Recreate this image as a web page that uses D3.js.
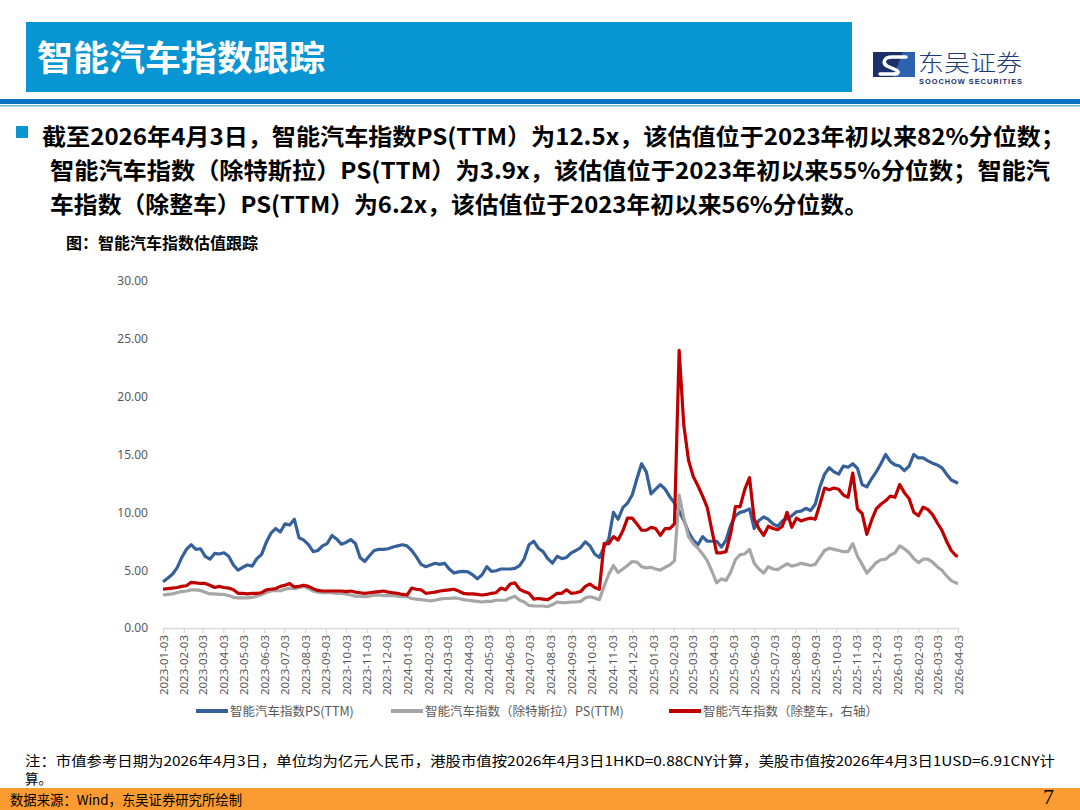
<!DOCTYPE html>
<html><head><meta charset="utf-8">
<script src="https://cdn.jsdelivr.net/npm/d3@7/dist/d3.min.js"></script>
<style>body{margin:0;background:#fff;} svg{display:block;}</style>
</head><body>
<svg id="c" width="1080" height="810"></svg>
<script>
// ---------- data ----------
const startDate = "2023-01-03";
const endDate = "2026-04-03";
const tickLabels = [
"2023-01-03","2023-02-03","2023-03-03","2023-04-03","2023-05-03","2023-06-03","2023-07-03","2023-08-03",
"2023-09-03","2023-10-03","2023-11-03","2023-12-03","2024-01-03","2024-02-03","2024-03-03","2024-04-03",
"2024-05-03","2024-06-03","2024-07-03","2024-08-03","2024-09-03","2024-10-03","2024-11-03","2024-12-03",
"2025-01-03","2025-02-03","2025-03-03","2025-04-03","2025-05-03","2025-06-03","2025-07-03","2025-08-03",
"2025-09-03","2025-10-03","2025-11-03","2025-12-03","2026-01-03","2026-02-03","2026-03-03","2026-04-03"];
const yTicks = [0,5,10,15,20,25,30];
const seriesNames = ["智能汽车指数PS(TTM)","智能汽车指数（除特斯拉）PS(TTM)","智能汽车指数（除整车，右轴）"];
// weekly readings from 2023-01-03, last value at 2026-04-03
const psAll = [
4.0,4.3,4.65,5.2,6.1,6.8,7.2,6.8,6.85,6.2,
5.95,6.45,6.4,6.5,6.2,5.45,5.0,5.25,5.45,5.35,
6.0,6.35,7.4,8.2,8.6,8.3,9.0,8.9,9.4,7.8,
7.6,7.2,6.6,6.7,7.1,7.3,8.0,7.7,7.25,7.4,
7.65,7.3,6.1,5.75,6.25,6.7,6.8,6.8,6.85,7.0,
7.1,7.2,7.1,6.7,6.15,5.5,5.3,5.45,5.6,5.5,
5.6,5.1,4.75,4.85,4.9,4.85,4.6,4.25,4.6,5.3,
4.9,4.95,5.1,5.1,5.1,5.15,5.4,6.0,7.2,7.5,
6.9,6.6,6.0,5.6,6.2,6.0,6.1,6.5,6.7,6.95,
7.45,7.1,6.4,6.1,7.0,7.7,10.0,9.4,10.4,10.8,
11.5,12.9,14.2,13.5,11.6,12.0,12.4,12.0,11.35,10.8,
10.1,9.3,8.3,7.6,7.2,7.9,7.5,7.5,7.5,7.0,
7.6,8.9,9.7,10.0,10.1,10.3,8.6,9.3,9.6,9.4,
9.0,8.8,9.25,9.45,9.7,10.05,10.1,10.35,10.15,10.7,
12.2,13.3,13.85,13.5,13.3,14.0,13.9,14.2,13.8,12.4,
12.2,12.9,13.5,14.2,15.0,14.4,14.1,14.0,13.6,14.0,
15.0,14.7,14.7,14.45,14.25,14.1,13.85,13.3,12.8,12.6,
12.5];
const psExTesla = [
2.85,2.9,2.95,3.05,3.15,3.2,3.3,3.3,3.25,3.1,
2.95,2.95,2.9,2.9,2.8,2.65,2.6,2.6,2.6,2.65,
2.75,2.9,3.05,3.2,3.25,3.2,3.35,3.45,3.4,3.5,
3.6,3.4,3.2,3.1,3.05,3.05,3.05,3.0,3.0,2.95,
2.85,2.75,2.75,2.7,2.75,2.85,2.85,2.8,2.8,2.8,
2.75,2.7,2.7,2.55,2.5,2.45,2.4,2.35,2.4,2.5,
2.55,2.55,2.6,2.55,2.45,2.4,2.35,2.3,2.25,2.3,
2.3,2.4,2.4,2.4,2.6,2.75,2.4,2.25,1.95,1.9,
1.9,1.9,1.85,2.0,2.25,2.2,2.2,2.25,2.25,2.3,
2.6,2.7,2.6,2.45,3.6,4.65,5.4,4.8,5.1,5.4,
5.75,5.7,5.3,5.2,5.25,5.1,5.0,5.25,5.45,5.8,
11.5,9.5,7.9,7.3,6.9,6.4,5.8,4.9,3.9,4.25,
4.1,4.85,5.9,6.35,6.4,6.8,5.6,5.1,4.75,5.3,
5.1,5.05,5.3,5.55,5.35,5.45,5.6,5.5,5.4,5.5,
6.1,6.7,6.9,6.8,6.7,6.6,6.6,7.3,6.2,5.5,
4.75,5.2,5.65,5.9,5.95,6.3,6.5,7.1,6.85,6.5,
6.0,5.65,5.95,5.95,5.7,5.3,5.0,4.5,4.1,3.9,
3.85];
const psExVehicle = [
3.35,3.4,3.45,3.5,3.6,3.65,3.95,3.9,3.85,3.85,
3.7,3.5,3.6,3.5,3.45,3.3,3.0,3.0,2.95,3.0,
3.0,3.05,3.3,3.35,3.4,3.6,3.7,3.85,3.55,3.6,
3.7,3.6,3.4,3.25,3.2,3.2,3.2,3.2,3.2,3.15,
3.2,3.1,3.05,3.0,3.05,3.1,3.15,3.2,3.1,3.05,
3.0,2.9,2.85,3.45,3.35,3.3,3.0,3.05,3.1,3.2,
3.25,3.3,3.35,3.2,3.0,2.95,2.95,2.9,2.85,2.9,
3.0,3.05,3.45,3.3,3.8,3.9,3.35,3.15,3.0,2.5,
2.55,2.5,2.45,2.7,3.0,3.0,3.3,3.0,3.05,3.15,
3.6,3.8,3.5,3.35,7.3,7.3,7.9,7.6,8.4,9.5,
9.5,9.0,8.45,8.45,8.7,8.6,8.0,8.6,8.6,9.0,
24.0,17.5,14.5,13.1,12.3,11.4,10.4,8.4,6.5,6.5,
6.6,8.2,10.5,10.5,12.0,13.0,9.4,8.6,8.0,8.8,
8.6,8.5,8.8,10.0,8.7,9.5,9.25,9.4,9.5,9.4,
10.7,12.1,11.95,12.1,12.0,11.5,11.3,13.4,10.3,9.9,
8.1,9.3,10.3,10.7,11.0,11.4,11.3,12.4,11.7,11.2,
10.0,9.7,10.45,10.25,9.8,9.1,8.45,7.5,6.7,6.25,
6.2];

// ---------- build ----------
const parse = d3.utcParse("%Y-%m-%d");
const d0 = parse(startDate), d1 = parse(endDate);
const dates = d3.range(psAll.length - 1).map(i => d3.utcDay.offset(d0, i * 7)).concat([d1]);

const svg = d3.select("#c");
const CJK = "'Noto Sans CJK SC','Noto Sans',sans-serif";

// header
svg.append("rect").attr("x",26).attr("y",22).attr("width",826).attr("height",70).attr("fill","#0795D4");
svg.append("text").attr("x",37).attr("y",71).attr("fill","#fff").attr("font-family",CJK)
  .attr("font-weight","bold").attr("font-size",35).attr("textLength",288).attr("lengthAdjust","spacingAndGlyphs")
  .text("智能汽车指数跟踪");
svg.append("rect").attr("x",0).attr("y",99).attr("width",1080).attr("height",5).attr("fill","#0A6FBE");
svg.append("rect").attr("x",0).attr("y",105).attr("width",1080).attr("height",1.5).attr("fill","#6FB1E0");

// logo
const lg = svg.append("g");
lg.append("rect").attr("x",873).attr("y",52).attr("width",42).attr("height",25).attr("fill","#1B2F6B");
lg.append("path").attr("d","M903,52 L915,52 L915,77 L893,77 Z").attr("fill","#2D63AE");
lg.append("path").attr("d","M906,57 L892,57 C884,57 882,63 887,66 L896,70 C900,72 898,74 894,74 L880,74")
  .attr("fill","none").attr("stroke","#fff").attr("stroke-width",3.5).attr("stroke-linecap","round");
lg.append("text").attr("x",918).attr("y",71).attr("fill","#1B3A7A").attr("font-family",CJK)
  .attr("font-weight",300).attr("font-size",23).attr("textLength",104).attr("lengthAdjust","spacingAndGlyphs").text("东吴证券");
lg.append("text").attr("x",919).attr("y",83.5).attr("fill","#1B2F6B").attr("font-family","'Liberation Sans',sans-serif")
  .attr("font-weight","bold").attr("font-size",7.4).attr("textLength",103).text("SOOCHOW SECURITIES");

// bullet text
svg.append("rect").attr("x",16).attr("y",126).attr("width",12).attr("height",12).attr("fill","#0795D4");
const lines = [
  {x:42, y:145, w:1023, t:"截至2026年4月3日，智能汽车指数PS(TTM）为12.5x，该估值位于2023年初以来82%分位数；"},
  {x:50, y:179, w:1000, t:"智能汽车指数（除特斯拉）PS(TTM）为3.9x，该估值位于2023年初以来55%分位数；智能汽"},
  {x:50, y:213, w:818,  t:"车指数（除整车）PS(TTM）为6.2x，该估值位于2023年初以来56%分位数。"}
];
lines.forEach(l => svg.append("text").attr("x",l.x).attr("y",l.y).attr("font-family",CJK)
  .attr("font-weight","bold").attr("font-size",23).attr("fill","#000")
  .attr("textLength",l.w).attr("lengthAdjust","spacingAndGlyphs").text(l.t));

svg.append("text").attr("x",66).attr("y",249).attr("font-family",CJK).attr("font-weight","bold")
  .attr("font-size",16).attr("fill","#000").text("图：智能汽车指数估值跟踪");

// scales
const x = d3.scaleUtc().domain([d0, d1]).range([163, 958]);
const y = d3.scaleLinear().domain([0, 30]).range([628, 281]);

// y axis
const ya = svg.append("g").attr("transform","translate(163,0)")
  .call(d3.axisLeft(y).tickValues(yTicks).tickFormat(d3.format(".2f")).tickSize(0).tickPadding(15));
ya.select(".domain").remove();
ya.selectAll("text").attr("fill","#595959").attr("font-size",12).attr("font-family","'Noto Sans',sans-serif");

// x axis
const xa = svg.append("g").attr("transform","translate(0,628)")
  .call(d3.axisBottom(x).tickValues(tickLabels.map(parse)).tickFormat(d3.utcFormat("%Y-%m-%d"))
    .tickSize(5).tickSizeOuter(0));
xa.select(".domain").attr("stroke","#D9D9D9").attr("stroke-width",1.5);
xa.selectAll(".tick line").attr("stroke","#D9D9D9").attr("stroke-width",1.2);
xa.selectAll("text").attr("fill","#595959").attr("font-size",11.5).attr("font-family","'Noto Sans',sans-serif")
  .attr("y",0).attr("x",-7).attr("dy","0.35em").attr("transform","rotate(-90)").style("text-anchor","end");

// lines
const colors = ["#36609A","#A6A6A6","#C00000"];
const allSeries = [psAll, psExTesla, psExVehicle];
const line = d3.line().x((d,i) => x(dates[i])).y(d => y(d));
allSeries.forEach((s,k) => svg.append("path").datum(s).attr("d", line)
  .attr("fill","none").attr("stroke",colors[k]).attr("stroke-width",3.2).attr("stroke-linejoin","round"));

// legend
const legX = [196, 391, 669];
seriesNames.forEach((n,k) => {
  svg.append("line").attr("x1",legX[k]).attr("x2",legX[k]+32).attr("y1",711).attr("y2",711)
    .attr("stroke",colors[k]).attr("stroke-width",4);
  svg.append("text").attr("x",legX[k]+34).attr("y",715.5).attr("font-family",CJK).attr("font-size",12.5)
    .attr("fill","#595959").text(n);
});

// note
svg.append("text").attr("x",25).attr("y",766).attr("font-family",CJK).attr("font-size",13.5).attr("fill","#000")
  .attr("textLength",1030).attr("lengthAdjust","spacingAndGlyphs")
  .text("注：市值参考日期为2026年4月3日，单位均为亿元人民币，港股市值按2026年4月3日1HKD=0.88CNY计算，美股市值按2026年4月3日1USD=6.91CNY计");
svg.append("text").attr("x",25).attr("y",784).attr("font-family",CJK).attr("font-size",13.5).attr("fill","#000").text("算。");

// footer
svg.append("rect").attr("x",0).attr("y",788).attr("width",1080).attr("height",22).attr("fill","#F99B31");
svg.append("text").attr("x",10).attr("y",805).attr("font-family",CJK).attr("font-size",13.5).attr("fill","#000")
  .attr("textLength",232).attr("lengthAdjust","spacingAndGlyphs").text("数据来源：Wind，东吴证券研究所绘制");
svg.append("text").attr("x",1043).attr("y",804).attr("font-family","'Liberation Serif',serif").attr("font-size",22)
  .attr("fill","#000").text("7");
</script>
</body></html>
